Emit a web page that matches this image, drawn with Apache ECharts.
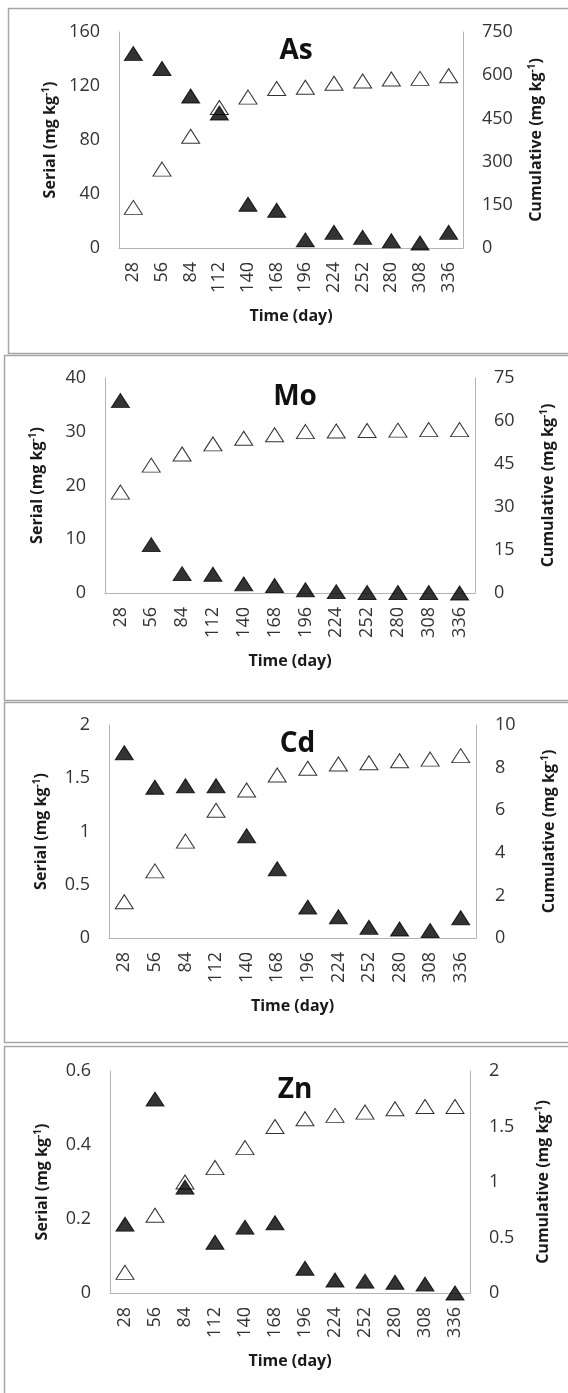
<!DOCTYPE html>
<html>
<head>
<meta charset="utf-8">
<script src="https://cdn.jsdelivr.net/npm/echarts@6/dist/echarts.min.js"></script>
<style>
html,body{margin:0;padding:0;background:#fff;}
#chart{width:568px;height:1393px;}
</style>
</head>
<body>
<div id="chart"></div>
<script>
// ---- data ----
var days = ['28','56','84','112','140','168','196','224','252','280','308','336'];
var panelNames = ['As','Mo','Cd','Zn'];

var asSerial = [144, 133, 112.6, 100, 32.4, 28, 6, 11.6, 7.9, 5.4, 3.7, 11.6];
var asCumulative = [141, 274, 388, 488, 524, 554, 558, 572, 580, 587, 589, 598];

var moSerial = [35.8, 9.0, 3.6, 3.5, 1.7, 1.4, 0.6, 0.25, 0.1, 0.1, 0.1, 0];
var moCumulative = [35.2, 44.6, 48.5, 52, 54, 55.2, 56.3, 56.5, 56.7, 56.8, 57, 57];

var cdSerial = [1.74, 1.415, 1.43, 1.43, 0.96, 0.65, 0.29, 0.2, 0.1, 0.085, 0.07, 0.19];
var cdCumulative = [1.7, 3.15, 4.55, 6.0, 6.95, 7.65, 7.97, 8.17, 8.23, 8.32, 8.4, 8.56];

var znSerial = [0.186, 0.524, 0.286, 0.137, 0.178, 0.19, 0.067, 0.035, 0.032, 0.029, 0.024, 0];
var znCumulative = [0.186, 0.70, 1.0, 1.13, 1.31, 1.50, 1.57, 1.60, 1.63, 1.66, 1.68, 1.68];

// axis ranges [min, max, interval]
var serialAxes = [[0,160,40],[0,40,10],[0,2,0.5],[0,0.6,0.2]];
var cumulativeAxes = [[0,750,150],[0,75,15],[0,10,2],[0,2,0.5]];

var serialData = [asSerial, moSerial, cdSerial, znSerial];
var cumulativeData = [asCumulative, moCumulative, cdCumulative, znCumulative];

// ---- layout ----
var grids = [
  {left:119, top:32, width:344, height:216},
  {left:105, top:378, width:370, height:215},
  {left:109, top:725, width:367, height:213},
  {left:110, top:1071, width:360, height:222}
];
var frames = [
  {x:8, y:8, w:700, h:345},
  {x:4, y:355, w:700, h:345},
  {x:4, y:702, w:700, h:340},
  {x:4, y:1046, w:700, h:400}
];

var FONT = 'Open Sans';
var labelColor = '#333333';
var nameColor = '#1a1a1a';
var axisLineColor = '#b4b4b4';

var supRich = {
  sup: {fontSize: 10, fontWeight: 'bold', fontFamily: FONT, color: nameColor, padding: [0,0,9,0]}
};

var option = {
  animation: false,
  backgroundColor: '#fff',
  textStyle: {fontFamily: FONT},
  title: [],
  grid: [],
  xAxis: [],
  yAxis: [],
  series: [],
  graphic: []
};

for (var i = 0; i < 4; i++) {
  var g = grids[i];
  option.grid.push({left: g.left, top: g.top, width: g.width, height: g.height, containLabel: false});
  option.title.push({
    text: panelNames[i],
    left: g.left + g.width / 2,
    top: g.top,
    textAlign: 'center',
    textStyle: {fontFamily: FONT, fontWeight: 'bold', fontSize: 28, color: '#111'}
  });
  option.xAxis.push({
    type: 'category',
    gridIndex: i,
    data: days,
    boundaryGap: true,
    name: 'Time (day)',
    nameLocation: 'middle',
    nameGap: 60,
    nameTextStyle: {fontFamily: FONT, fontWeight: 'bold', fontSize: 16, color: nameColor},
    axisLine: {show: true, lineStyle: {color: axisLineColor, width: 1}},
    axisTick: {show: false},
    axisLabel: {rotate: 90, margin: 14, fontSize: 18, color: labelColor, fontFamily: FONT, interval: 0},
    splitLine: {show: false}
  });
  var sa = serialAxes[i], ca = cumulativeAxes[i];
  option.yAxis.push({
    type: 'value',
    gridIndex: i,
    position: 'left',
    min: sa[0], max: sa[1], interval: sa[2],
    name: 'Serial (mg kg{sup|-1})',
    nameLocation: 'middle',
    nameRotate: 90,
    nameGap: 58,
    nameTextStyle: {fontFamily: FONT, fontWeight: 'bold', fontSize: 16, color: nameColor, rich: supRich},
    axisLine: {show: true, lineStyle: {color: axisLineColor, width: 1}},
    axisTick: {show: false},
    axisLabel: {margin: 19, fontSize: 18, color: labelColor, fontFamily: FONT},
    splitLine: {show: false}
  });
  option.yAxis.push({
    type: 'value',
    gridIndex: i,
    position: 'right',
    min: ca[0], max: ca[1], interval: ca[2],
    name: 'Cumulative (mg kg{sup|-1})',
    nameLocation: 'middle',
    nameRotate: 90,
    nameGap: 64,
    nameTextStyle: {fontFamily: FONT, fontWeight: 'bold', fontSize: 16, color: nameColor, rich: supRich},
    axisLine: {show: true, lineStyle: {color: axisLineColor, width: 1}},
    axisTick: {show: false},
    axisLabel: {margin: 19, fontSize: 18, color: labelColor, fontFamily: FONT},
    splitLine: {show: false}
  });
  option.series.push({
    type: 'scatter',
    name: 'Cumulative',
    xAxisIndex: i,
    yAxisIndex: i * 2 + 1,
    data: cumulativeData[i],
    symbol: 'triangle',
    symbolSize: [18, 14],
    itemStyle: {color: '#ffffff', borderColor: '#000000', borderWidth: 1},
    z: 2
  });
  option.series.push({
    type: 'scatter',
    name: 'Serial',
    xAxisIndex: i,
    yAxisIndex: i * 2,
    data: serialData[i],
    symbol: 'triangle',
    symbolSize: [18, 14],
    itemStyle: {color: '#000000', borderColor: '#000000', borderWidth: 1},
    z: 3
  });
  var f = frames[i];
  option.graphic.push({
    type: 'rect',
    shape: {x: f.x + 0.5, y: f.y + 0.5, width: f.w, height: f.h},
    style: {fill: 'none', stroke: '#a6a6a6', lineWidth: 1.5},
    z: -1,
    silent: true
  });
}

var chart = echarts.init(document.getElementById('chart'), null, {renderer: 'canvas'});
chart.setOption(option);
</script>
</body>
</html>
